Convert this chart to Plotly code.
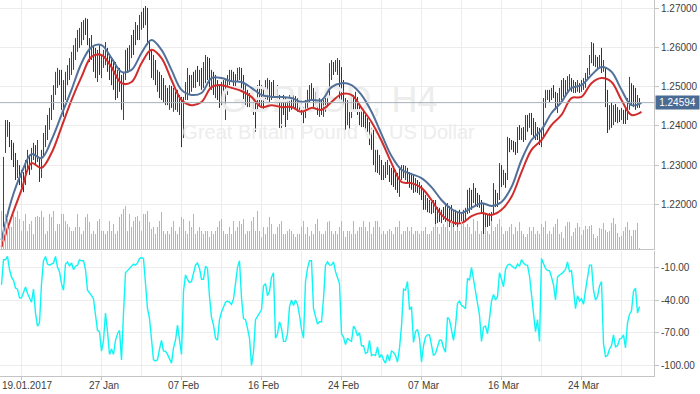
import plotly.graph_objects as go

# ---------------- data (GBPUSD H4) ----------------
first_open = 1.2109
highs = [
1.2180, 1.2321, 1.2415, 1.2415, 1.2410, 1.2364, 1.2357, 1.2331, 1.2313, 1.2300,
1.2288, 1.2282, 1.2313, 1.2339, 1.2326, 1.2344, 1.2357, 1.2351, 1.2364, 1.2318,
1.2339, 1.2382, 1.2402, 1.2428, 1.2446, 1.2479, 1.2504, 1.2538, 1.2548, 1.2543,
1.2543, 1.2517, 1.2538, 1.2555, 1.2573, 1.2589, 1.2606, 1.2624, 1.2645, 1.2650,
1.2665, 1.2670, 1.2675, 1.2673, 1.2624, 1.2632, 1.2606, 1.2599, 1.2594, 1.2606,
1.2581, 1.2594, 1.2614, 1.2599, 1.2581, 1.2573, 1.2568, 1.2563, 1.2543, 1.2548,
1.2530, 1.2538, 1.2594, 1.2599, 1.2606, 1.2632, 1.2645, 1.2665, 1.2657, 1.2683,
1.2691, 1.2701, 1.2706, 1.2701, 1.2619, 1.2594, 1.2581, 1.2568, 1.2543, 1.2538,
1.2530, 1.2522, 1.2504, 1.2497, 1.2504, 1.2502, 1.2497, 1.2487, 1.2492, 1.2479,
1.2474, 1.2474, 1.2512, 1.2548, 1.2530, 1.2530, 1.2538, 1.2543, 1.2553, 1.2543,
1.2548, 1.2563, 1.2581, 1.2576, 1.2573, 1.2543, 1.2538, 1.2530, 1.2517, 1.2504,
1.2512, 1.2517, 1.2517, 1.2530, 1.2543, 1.2543, 1.2538, 1.2532, 1.2548, 1.2550,
1.2548, 1.2530, 1.2504, 1.2492, 1.2484, 1.2479, 1.2466, 1.2459, 1.2504, 1.2517,
1.2504, 1.2497, 1.2517, 1.2522, 1.2517, 1.2512, 1.2517, 1.2497, 1.2504, 1.2479,
1.2466, 1.2479, 1.2471, 1.2466, 1.2479, 1.2474, 1.2479, 1.2476, 1.2471, 1.2474,
1.2466, 1.2448, 1.2466, 1.2492, 1.2504, 1.2509, 1.2497, 1.2487, 1.2466, 1.2471,
1.2466, 1.2466, 1.2471, 1.2479, 1.2560, 1.2568, 1.2563, 1.2568, 1.2573, 1.2568,
1.2550, 1.2517, 1.2471, 1.2466, 1.2453, 1.2479, 1.2479, 1.2487, 1.2474, 1.2453,
1.2448, 1.2441, 1.2428, 1.2420, 1.2410, 1.2395, 1.2390, 1.2339, 1.2339, 1.2326,
1.2313, 1.2300, 1.2308, 1.2313, 1.2300, 1.2293, 1.2295, 1.2288, 1.2280, 1.2295,
1.2300, 1.2300, 1.2298, 1.2293, 1.2282, 1.2280, 1.2275, 1.2267, 1.2262, 1.2257,
1.2249, 1.2237, 1.2224, 1.2216, 1.2211, 1.2206, 1.2211, 1.2211, 1.2193, 1.2191,
1.2186, 1.2193, 1.2198, 1.2203, 1.2196, 1.2198, 1.2186, 1.2186, 1.2180, 1.2186,
1.2180, 1.2186, 1.2191, 1.2237, 1.2242, 1.2237, 1.2254, 1.2242, 1.2229, 1.2224,
1.2211, 1.2203, 1.2178, 1.2173, 1.2178, 1.2180, 1.2254, 1.2237, 1.2229, 1.2305,
1.2300, 1.2288, 1.2280, 1.2372, 1.2369, 1.2364, 1.2362, 1.2359, 1.2397, 1.2402,
1.2395, 1.2397, 1.2428, 1.2428, 1.2433, 1.2433, 1.2420, 1.2410, 1.2397, 1.2395,
1.2395, 1.2471, 1.2492, 1.2492, 1.2492, 1.2497, 1.2504, 1.2487, 1.2484, 1.2497,
1.2517, 1.2522, 1.2517, 1.2527, 1.2532, 1.2522, 1.2517, 1.2512, 1.2517, 1.2509,
1.2517, 1.2522, 1.2535, 1.2548, 1.2581, 1.2614, 1.2611, 1.2581, 1.2576, 1.2581,
1.2599, 1.2568, 1.2550, 1.2492, 1.2453, 1.2459, 1.2453, 1.2456, 1.2448, 1.2441,
1.2446, 1.2441, 1.2448, 1.2471, 1.2525, 1.2509, 1.2504, 1.2497, 1.2479, 1.2471,
]
lows = [
1.2091, 1.2129, 1.2331, 1.2372, 1.2346, 1.2313, 1.2295, 1.2262, 1.2267, 1.2249,
1.2237, 1.2231, 1.2249, 1.2288, 1.2275, 1.2288, 1.2313, 1.2300, 1.2308, 1.2257,
1.2267, 1.2321, 1.2346, 1.2364, 1.2390, 1.2415, 1.2441, 1.2479, 1.2497, 1.2504,
1.2441, 1.2423, 1.2466, 1.2504, 1.2517, 1.2530, 1.2543, 1.2568, 1.2589, 1.2599,
1.2606, 1.2619, 1.2632, 1.2606, 1.2563, 1.2568, 1.2538, 1.2522, 1.2512, 1.2530,
1.2522, 1.2548, 1.2555, 1.2538, 1.2517, 1.2504, 1.2492, 1.2466, 1.2471, 1.2487,
1.2441, 1.2415, 1.2517, 1.2538, 1.2543, 1.2573, 1.2581, 1.2606, 1.2619, 1.2619,
1.2645, 1.2650, 1.2657, 1.2606, 1.2568, 1.2522, 1.2517, 1.2504, 1.2487, 1.2471,
1.2466, 1.2459, 1.2453, 1.2453, 1.2441, 1.2446, 1.2436, 1.2441, 1.2436, 1.2428,
1.2346, 1.2369, 1.2466, 1.2466, 1.2479, 1.2487, 1.2497, 1.2497, 1.2512, 1.2502,
1.2492, 1.2497, 1.2509, 1.2517, 1.2499, 1.2492, 1.2479, 1.2471, 1.2466, 1.2446,
1.2453, 1.2466, 1.2415, 1.2479, 1.2504, 1.2512, 1.2497, 1.2497, 1.2512, 1.2517,
1.2492, 1.2446, 1.2453, 1.2448, 1.2448, 1.2441, 1.2428, 1.2385, 1.2441, 1.2453,
1.2446, 1.2441, 1.2466, 1.2466, 1.2461, 1.2466, 1.2471, 1.2459, 1.2453, 1.2395,
1.2395, 1.2428, 1.2397, 1.2415, 1.2436, 1.2441, 1.2446, 1.2441, 1.2436, 1.2441,
1.2428, 1.2407, 1.2420, 1.2446, 1.2461, 1.2466, 1.2446, 1.2441, 1.2428, 1.2423,
1.2428, 1.2423, 1.2436, 1.2441, 1.2474, 1.2517, 1.2530, 1.2538, 1.2530, 1.2466,
1.2466, 1.2453, 1.2390, 1.2402, 1.2390, 1.2420, 1.2436, 1.2441, 1.2428, 1.2402,
1.2397, 1.2397, 1.2390, 1.2385, 1.2351, 1.2339, 1.2300, 1.2282, 1.2280, 1.2275,
1.2262, 1.2262, 1.2267, 1.2275, 1.2257, 1.2249, 1.2244, 1.2237, 1.2229, 1.2219,
1.2262, 1.2267, 1.2262, 1.2257, 1.2242, 1.2237, 1.2229, 1.2231, 1.2229, 1.2224,
1.2211, 1.2186, 1.2186, 1.2180, 1.2178, 1.2175, 1.2178, 1.2142, 1.2152, 1.2155,
1.2152, 1.2160, 1.2155, 1.2147, 1.2142, 1.2155, 1.2142, 1.2147, 1.2142, 1.2150,
1.2152, 1.2155, 1.2155, 1.2175, 1.2178, 1.2186, 1.2203, 1.2198, 1.2193, 1.2191,
1.2180, 1.2109, 1.2140, 1.2142, 1.2145, 1.2147, 1.2173, 1.2193, 1.2193, 1.2211,
1.2244, 1.2249, 1.2242, 1.2262, 1.2333, 1.2339, 1.2333, 1.2326, 1.2331, 1.2364,
1.2364, 1.2359, 1.2364, 1.2385, 1.2395, 1.2377, 1.2369, 1.2364, 1.2364, 1.2351,
1.2346, 1.2369, 1.2446, 1.2466, 1.2461, 1.2466, 1.2471, 1.2441, 1.2433, 1.2453,
1.2466, 1.2474, 1.2479, 1.2487, 1.2492, 1.2487, 1.2484, 1.2484, 1.2487, 1.2484,
1.2487, 1.2492, 1.2497, 1.2517, 1.2530, 1.2560, 1.2553, 1.2550, 1.2548, 1.2550,
1.2535, 1.2538, 1.2448, 1.2382, 1.2390, 1.2395, 1.2402, 1.2410, 1.2407, 1.2410,
1.2415, 1.2405, 1.2405, 1.2415, 1.2441, 1.2453, 1.2448, 1.2441, 1.2446, 1.2446,
]
closes = [
1.2173, 1.2300, 1.2395, 1.2402, 1.2364, 1.2326, 1.2308, 1.2275, 1.2288, 1.2262,
1.2282, 1.2249, 1.2305, 1.2326, 1.2293, 1.2333, 1.2339, 1.2313, 1.2318, 1.2275,
1.2326, 1.2369, 1.2390, 1.2415, 1.2436, 1.2466, 1.2492, 1.2522, 1.2538, 1.2517,
1.2453, 1.2479, 1.2522, 1.2543, 1.2563, 1.2573, 1.2594, 1.2614, 1.2632, 1.2637,
1.2650, 1.2657, 1.2645, 1.2614, 1.2581, 1.2619, 1.2555, 1.2538, 1.2573, 1.2543,
1.2568, 1.2573, 1.2599, 1.2548, 1.2530, 1.2517, 1.2504, 1.2479, 1.2530, 1.2497,
1.2466, 1.2522, 1.2581, 1.2568, 1.2594, 1.2619, 1.2594, 1.2650, 1.2632, 1.2670,
1.2675, 1.2670, 1.2683, 1.2619, 1.2581, 1.2538, 1.2563, 1.2517, 1.2530, 1.2487,
1.2517, 1.2471, 1.2487, 1.2466, 1.2479, 1.2461, 1.2471, 1.2453, 1.2466, 1.2441,
1.2364, 1.2466, 1.2497, 1.2522, 1.2492, 1.2517, 1.2504, 1.2530, 1.2522, 1.2532,
1.2504, 1.2548, 1.2568, 1.2530, 1.2512, 1.2530, 1.2492, 1.2504, 1.2479, 1.2466,
1.2497, 1.2479, 1.2504, 1.2517, 1.2527, 1.2532, 1.2512, 1.2522, 1.2538, 1.2543,
1.2530, 1.2466, 1.2487, 1.2466, 1.2471, 1.2453, 1.2441, 1.2402, 1.2492, 1.2479,
1.2487, 1.2466, 1.2504, 1.2512, 1.2479, 1.2492, 1.2481, 1.2476, 1.2466, 1.2441,
1.2453, 1.2446, 1.2415, 1.2453, 1.2466, 1.2456, 1.2466, 1.2453, 1.2461, 1.2451,
1.2441, 1.2420, 1.2453, 1.2479, 1.2497, 1.2479, 1.2466, 1.2453, 1.2446, 1.2459,
1.2441, 1.2456, 1.2461, 1.2466, 1.2548, 1.2555, 1.2548, 1.2558, 1.2563, 1.2492,
1.2479, 1.2466, 1.2415, 1.2441, 1.2402, 1.2466, 1.2453, 1.2474, 1.2441, 1.2415,
1.2436, 1.2410, 1.2402, 1.2395, 1.2364, 1.2351, 1.2313, 1.2326, 1.2293, 1.2313,
1.2275, 1.2288, 1.2298, 1.2303, 1.2267, 1.2262, 1.2252, 1.2247, 1.2237, 1.2282,
1.2288, 1.2282, 1.2288, 1.2267, 1.2257, 1.2249, 1.2242, 1.2252, 1.2237, 1.2242,
1.2221, 1.2198, 1.2211, 1.2191, 1.2198, 1.2186, 1.2201, 1.2160, 1.2180, 1.2165,
1.2175, 1.2170, 1.2186, 1.2160, 1.2180, 1.2165, 1.2173, 1.2155, 1.2170, 1.2160,
1.2173, 1.2175, 1.2180, 1.2224, 1.2231, 1.2211, 1.2242, 1.2216, 1.2211, 1.2203,
1.2191, 1.2147, 1.2165, 1.2155, 1.2170, 1.2165, 1.2237, 1.2211, 1.2219, 1.2293,
1.2262, 1.2267, 1.2254, 1.2359, 1.2349, 1.2354, 1.2344, 1.2339, 1.2390, 1.2377,
1.2385, 1.2369, 1.2415, 1.2402, 1.2420, 1.2390, 1.2377, 1.2395, 1.2372, 1.2364,
1.2377, 1.2461, 1.2479, 1.2481, 1.2476, 1.2487, 1.2479, 1.2453, 1.2466, 1.2487,
1.2504, 1.2492, 1.2504, 1.2512, 1.2517, 1.2502, 1.2507, 1.2497, 1.2504, 1.2497,
1.2507, 1.2512, 1.2527, 1.2538, 1.2573, 1.2581, 1.2568, 1.2573, 1.2563, 1.2573,
1.2548, 1.2555, 1.2466, 1.2415, 1.2436, 1.2420, 1.2441, 1.2436, 1.2441, 1.2428,
1.2436, 1.2420, 1.2415, 1.2456, 1.2504, 1.2471, 1.2466, 1.2453, 1.2461, 1.24594,
]
# tick volume, hundreds
volume = [
38, 22, 35, 32, 22, 22, 35, 32, 38, 30, 18, 28, 35, 18, 25, 28, 15, 32, 33, 32,
38, 32, 15, 18, 35, 32, 38, 18, 25, 25, 35, 35, 28, 25, 22, 18, 18, 22, 35, 22,
15, 18, 32, 35, 27, 15, 18, 15, 28, 30, 18, 18, 15, 18, 28, 18, 25, 15, 18, 32,
35, 40, 43, 18, 35, 22, 28, 32, 33, 28, 18, 35, 35, 38, 27, 20, 22, 15, 22, 28,
37, 18, 15, 18, 15, 22, 28, 18, 15, 22, 32, 30, 18, 15, 28, 22, 35, 15, 18, 22,
18, 15, 18, 18, 12, 18, 15, 18, 22, 28, 30, 18, 15, 15, 22, 15, 28, 18, 22, 28,
25, 30, 15, 18, 18, 28, 32, 18, 38, 18, 12, 22, 15, 22, 32, 25, 15, 15, 22, 25,
28, 15, 15, 18, 20, 18, 15, 12, 15, 15, 22, 28, 15, 22, 13, 18, 15, 25, 30, 18,
15, 15, 18, 27, 28, 18, 15, 18, 15, 22, 28, 18, 12, 18, 18, 15, 28, 15, 18, 22,
22, 28, 22, 18, 27, 15, 22, 28, 28, 22, 15, 18, 15, 18, 20, 18, 15, 22, 22, 28,
15, 18, 18, 22, 18, 22, 15, 18, 18, 15, 18, 18, 22, 15, 15, 18, 22, 25, 22, 15,
22, 25, 22, 28, 18, 28, 22, 18, 22, 18, 28, 25, 22, 25, 22, 15, 30, 18, 28, 15,
18, 15, 22, 18, 15, 28, 18, 22, 25, 30, 22, 15, 18, 18, 22, 25, 15, 22, 18, 27,
18, 15, 12, 15, 22, 18, 22, 15, 18, 15, 25, 22, 28, 15, 18, 15, 22, 25, 30, 15,
17, 11, 23, 27, 27, 13, 17, 21, 26, 22, 14, 19, 23, 20, 23, 24, 15, 11, 13, 21,
20, 26, 19, 17, 18, 26, 31, 25, 16, 12, 13, 18, 22, 27, 19, 13, 19, 19, 26, 1,
]
# two moving-average envelopes, sampled every 5 bars
ma_bars = list(range(0, 321, 5))
ma_upper = [
1.2109, 1.2211, 1.2280, 1.2328, 1.2318, 1.2364, 1.2428, 1.2492, 1.2560, 1.2601,
1.2606, 1.2573, 1.2538, 1.2543, 1.2586, 1.2619, 1.2594, 1.2543, 1.2492, 1.2479,
1.2484, 1.2522, 1.2522, 1.2514, 1.2512, 1.2497, 1.2479, 1.2474, 1.2474, 1.2471,
1.2461, 1.2466, 1.2466, 1.2499, 1.2509, 1.2504, 1.2479, 1.2436, 1.2379, 1.2323,
1.2288, 1.2277, 1.2267, 1.2244, 1.2211, 1.2188, 1.2178, 1.2191, 1.2203, 1.2196,
1.2206, 1.2244, 1.2313, 1.2364, 1.2390, 1.2433, 1.2461, 1.2497, 1.2504, 1.2530,
1.2550, 1.2538, 1.2492, 1.2453, 1.2459,
]
ma_lower = [
1.2091, 1.2168, 1.2237, 1.2305, 1.2293, 1.2331, 1.2397, 1.2466, 1.2525, 1.2576,
1.2581, 1.2550, 1.2509, 1.2512, 1.2560, 1.2594, 1.2573, 1.2517, 1.2466, 1.2453,
1.2461, 1.2499, 1.2504, 1.2497, 1.2489, 1.2474, 1.2448, 1.2453, 1.2448, 1.2448,
1.2436, 1.2446, 1.2441, 1.2461, 1.2481, 1.2479, 1.2446, 1.2410, 1.2362, 1.2305,
1.2257, 1.2254, 1.2242, 1.2211, 1.2173, 1.2155, 1.2152, 1.2170, 1.2178, 1.2173,
1.2186, 1.2219, 1.2282, 1.2339, 1.2364, 1.2402, 1.2428, 1.2471, 1.2474, 1.2509,
1.2522, 1.2512, 1.2466, 1.2428, 1.2436,
]
williams_r = [
-26, -3, -3, 0, -12, -19, -22, -29, -30, -38,
-38, -33, -28, -34, -39, -42, -30, -52, -64, -61,
-25, -4, 0, -7, -8, -7, -6, 0, -10, -14,
-25, -31, -7, -5, -9, -6, -12, -9, -8, -3,
-4, -4, -12, -31, -33, -36, -39, -52, -68, -69,
-87, -77, -52, -69, -90, -85, -90, -77, -71, -68,
-95, -52, -15, -13, -11, -9, -7, -8, -6, -2,
-1, -2, -25, -48, -57, -77, -95, -96, -95, -85,
-77, -87, -87, -90, -94, -98, -84, -77, -63, -75,
-90, -32, -17, -21, -24, -23, -15, -8, -6, -11,
-21, -21, -9, -11, -37, -56, -63, -75, -77, -58,
-51, -47, -42, -41, -42, -44, -39, -25, -10, -4,
-38, -57, -58, -66, -75, -100, -88, -58, -55, -52,
-49, -27, -25, -36, -32, -19, -15, -75, -71, -60,
-66, -78, -78, -71, -46, -40, -45, -40, -44, -54,
-67, -75, -23, -11, -4, -4, -48, -55, -62, -60,
-60, -39, -8, -5, -8, -8, -5, -14, -20, -25,
-71, -74, -81, -75, -77,
-78, -64, -67, -73, -70, -82, -82, -89, -88, -77,
-91, -90, -91, -83, -93, -90, -95, -98, -90, -96,
-87, -88, -91, -97, -84, -64, -30, -31, -23, -49,
-46, -79, -69, -67, -75, -97, -82, -74, -72, -72,
-80, -91, -89, -83, -77, -77, -84, -88, -56, -58,
-69, -77, -64, -43, -41, -45, -46, -48, -20, -22,
-10, -21, -32, -39, -54, -78, -65, -64, -71, -57,
-41, -35, -40, -37, -15, -21, -28, -12, -8, -7,
-9, -10, -11, -7, -9, -3, -6, -8, -8, -18,
-35, -53, -69, -58, -78, -2, -7, -11, -13, -13,
-19, -26, -40, -19, -17, -16, -14, -12, -5, -14,
-13, -32, -48, -36, -41, -39, -44, -31, -18, -8,
-8, -31, -40, -37, -27, -23, -80, -92, -91, -85,
-82, -72, -83, -82, -76, -75, -72, -84, -61, -53,
-50, -32, -29, -52, -46,
]
last_price = 1.24594
price_ticks = [1.22, 1.23, 1.24, 1.25, 1.26, 1.27]
wr_ticks = [-10, -40, -70, -100]
date_labels = ["19.01.2017", "27 Jan", "07 Feb", "16 Feb", "24 Feb", "07 Mar", "16 Mar", "24 Mar"]
date_bars = [10, 50, 90, 130, 170, 210, 250, 290]
grid_bars = list(range(10, 320, 20))

n = min(len(highs), len(lows), len(closes))
bars = list(range(n))
opens = [first_open] + closes[:n - 1]

P_TOP, P_BOT = 1.27212, 1.20860
FONT = "Liberation Sans"
GRID = "#ececec"
AXIS = "#c4c4c4"

fig = go.Figure()

def py(frac):
    return P_TOP - frac * (P_TOP - P_BOT)

# watermark (drawn first so it stays behind)
fig.add_trace(go.Scatter(
    x=[163.5, 163.5], y=[py(103 / 249), py(134 / 249)], mode="text",
    text=["GBPUSD, H4", "Great Britain Pound vs US Dollar"],
    textfont=dict(family=FONT, size=[36, 20], color="#ededed"),
    textposition="middle center", hoverinfo="skip", xaxis="x", yaxis="y"))

# volume histogram as 1px vertical strokes
vx, vy = [], []
for i, v in enumerate(volume):
    vx += [i, i, None]
    vy += [0, v, None]
fig.add_trace(go.Scatter(
    x=vx, y=vy, mode="lines", line=dict(color="#86c4ea", width=1),
    xaxis="x", yaxis="y3", hoverinfo="skip", connectgaps=False))

fig.add_trace(go.Ohlc(
    x=bars, open=opens, high=highs[:n], low=lows[:n], close=closes[:n],
    tickwidth=0,
    increasing=dict(line=dict(color="#1f5a22", width=1)),
    decreasing=dict(line=dict(color="#681c1c", width=1)),
    xaxis="x", yaxis="y", hoverinfo="skip"))

fig.add_trace(go.Scatter(
    x=ma_bars, y=ma_upper, mode="lines", line=dict(color="#52719a", width=2, shape="spline"),
    xaxis="x", yaxis="y", hoverinfo="skip"))
fig.add_trace(go.Scatter(
    x=ma_bars, y=ma_lower, mode="lines", line=dict(color="#d12c2c", width=2, shape="spline"),
    xaxis="x", yaxis="y", hoverinfo="skip"))

fig.add_trace(go.Scatter(
    x=list(range(len(williams_r))), y=williams_r, mode="lines",
    line=dict(color="#0ff5f5", width=1.4),
    xaxis="x2", yaxis="y2", hoverinfo="skip"))

# current price line
fig.add_shape(type="line", xref="paper", x0=0, x1=1, yref="y", y0=last_price, y1=last_price,
              line=dict(color="#a6b0ba", width=1), layer="above")

annotations = []
for i, (lab, b) in enumerate(zip(date_labels, date_bars)):
    annotations.append(dict(
        x=b, xref="x2", y=0, yref="paper", yanchor="top", xanchor="center",
        yshift=-2, xshift=(5 if i == 0 else 2), text=lab, showarrow=False,
        font=dict(family=FONT, size=10, color="#3d3d3d")))
annotations.append(dict(
    x=1, xref="paper", y=last_price, yref="y", xanchor="left", yanchor="middle",
    xshift=1, text=f"{last_price:.5f}", showarrow=False, bgcolor="#4a6b93",
    width=40, height=10, borderpad=1.5,
    font=dict(family=FONT, size=10, color="white")))

main_bottom = 1 - 249 / 376
ind_top = (376 - 251) / 376

fig.update_layout(
    width=700, height=394,
    margin=dict(l=0, r=46, t=0, b=18),
    paper_bgcolor="white", plot_bgcolor="white",
    showlegend=False,
    font=dict(family=FONT, size=10, color="#3d3d3d"),
    annotations=annotations,
    xaxis=dict(domain=[0, 1], anchor="y", range=[-0.75, 326.25], tickvals=grid_bars,
               showticklabels=False, ticks="", showgrid=True, gridcolor=GRID, zeroline=False,
               showline=True, linecolor=AXIS, rangeslider=dict(visible=False), fixedrange=True),
    xaxis2=dict(domain=[0, 1], anchor="y2", matches="x", tickvals=date_bars,
                showticklabels=False, ticks="outside", ticklen=3, tickcolor=AXIS,
                showgrid=True, gridcolor=GRID, zeroline=False,
                minor=dict(tickvals=grid_bars, showgrid=True, gridcolor=GRID, ticks=""),
                showline=True, linecolor=AXIS, rangeslider=dict(visible=False)),
    yaxis=dict(domain=[main_bottom, 1], anchor="x", side="right", range=[P_BOT, P_TOP],
               tickvals=price_ticks, tickformat=".5f", ticks="outside", ticklen=4,
               tickcolor=AXIS, showgrid=True, gridcolor=GRID, zeroline=False,
               showline=True, linecolor=AXIS),
    yaxis2=dict(domain=[0, ind_top], anchor="x2", side="right", range=[-109.8, 5],
                tickvals=wr_ticks, ticktext=[f"-{abs(v)}.00" for v in wr_ticks],
                ticks="outside", ticklen=4, tickcolor=AXIS, showgrid=True, gridcolor=GRID,
                zeroline=False, showline=True, linecolor=AXIS),
    yaxis3=dict(overlaying="y", anchor="x", range=[0, 249], visible=False),
)

fig.write_html("out.html", config={"displayModeBar": False},
               post_script="document.body.style.margin='0';document.body.style.overflow='hidden';")
